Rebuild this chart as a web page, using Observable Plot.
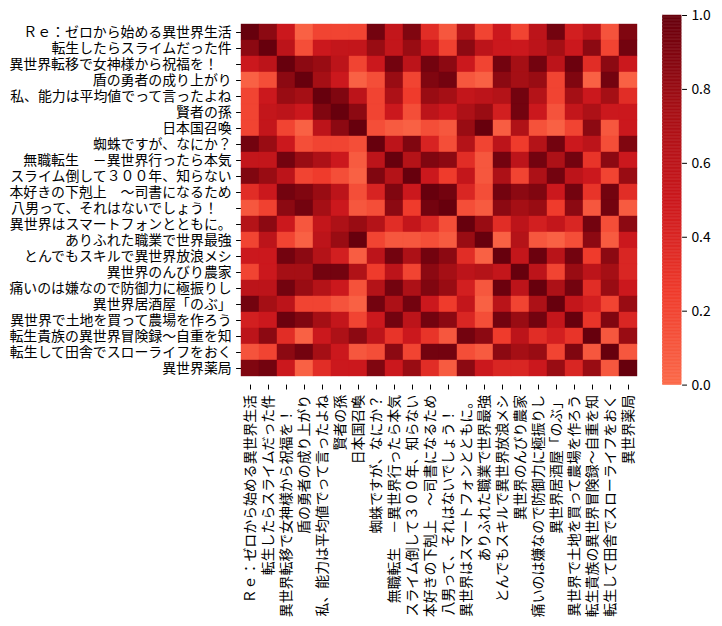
<!DOCTYPE html>
<html>
<head>
<meta charset="utf-8">
<script src="https://cdn.jsdelivr.net/npm/d3@7"></script>
<script src="https://cdn.jsdelivr.net/npm/@observablehq/plot@0.6"></script>
<style>
  html, body { margin: 0; padding: 0; background: white; }
  #wrap { position: relative; width: 722px; height: 626px; }
  #wrap svg { position: absolute; left: 0; top: 0; }
</style>
</head>
<body>
<div id="wrap"></div>
<script>
const titles = [
  "Ｒｅ：ゼロから始める異世界生活",
  "転生したらスライムだった件",
  "異世界転移で女神様から祝福を！　",
  "盾の勇者の成り上がり",
  "私、能力は平均値でって言ったよね",
  "賢者の孫",
  "日本国召喚",
  "蜘蛛ですが、なにか？",
  "無職転生　－異世界行ったら本気",
  "スライム倒して３００年、知らない",
  "本好きの下剋上　～司書になるため",
  "八男って、それはないでしょう！　",
  "異世界はスマートフォンとともに。",
  "ありふれた職業で世界最強",
  "とんでもスキルで異世界放浪メシ",
  "異世界のんびり農家",
  "痛いのは嫌なので防御力に極振りし",
  "異世界居酒屋「のぶ」",
  "異世界で土地を買って農場を作ろう",
  "転生貴族の異世界冒険録～自重を知",
  "転生して田舎でスローライフをおく",
  "異世界薬局"
];

const values = [
  [1.0, 0.85, 0.5, 0.05, 0.2, 0.2, 0.2, 0.95, 0.55, 0.9, 0.35, 0.1, 0.65, 0.2, 0.5, 0.2, 0.6, 0.95, 0.45, 0.6, 0.12, 0.9],
  [0.85, 1.0, 0.6, 0.15, 0.5, 0.55, 0.55, 0.8, 0.55, 0.8, 0.5, 0.22, 0.85, 0.6, 0.5, 0.5, 0.6, 0.75, 0.5, 0.85, 0.2, 0.95],
  [0.5, 0.6, 1.0, 0.85, 0.8, 0.6, 0.2, 0.5, 0.95, 0.6, 0.95, 0.85, 0.5, 0.2, 0.95, 0.75, 0.95, 0.6, 0.98, 0.35, 0.85, 0.5],
  [0.05, 0.15, 0.85, 1.0, 0.75, 0.5, 0.05, 0.15, 0.8, 0.2, 0.9, 0.95, 0.1, 0.05, 0.85, 0.75, 0.8, 0.2, 0.9, 0.05, 0.95, 0.05],
  [0.2, 0.5, 0.8, 0.75, 1.0, 0.9, 0.6, 0.2, 0.7, 0.25, 0.8, 0.75, 0.55, 0.6, 0.65, 0.95, 0.65, 0.2, 0.75, 0.5, 0.75, 0.35],
  [0.2, 0.55, 0.6, 0.5, 0.9, 1.0, 0.85, 0.2, 0.5, 0.15, 0.6, 0.5, 0.7, 0.8, 0.45, 0.95, 0.5, 0.12, 0.55, 0.7, 0.5, 0.5],
  [0.2, 0.55, 0.2, 0.05, 0.6, 0.85, 1.0, 0.15, 0.08, 0.05, 0.15, 0.1, 0.8, 1.0, 0.07, 0.68, 0.13, 0.05, 0.2, 0.85, 0.1, 0.5],
  [0.95, 0.8, 0.5, 0.15, 0.2, 0.2, 0.15, 1.0, 0.6, 0.9, 0.42, 0.15, 0.65, 0.2, 0.6, 0.25, 0.65, 0.95, 0.5, 0.6, 0.15, 0.9],
  [0.55, 0.55, 0.95, 0.8, 0.7, 0.5, 0.08, 0.6, 1.0, 0.65, 0.9, 0.85, 0.35, 0.1, 0.95, 0.6, 0.95, 0.7, 0.95, 0.3, 0.85, 0.5],
  [0.9, 0.8, 0.6, 0.2, 0.25, 0.15, 0.05, 0.9, 0.65, 1.0, 0.5, 0.25, 0.55, 0.1, 0.7, 0.2, 0.7, 0.95, 0.6, 0.5, 0.2, 0.8],
  [0.35, 0.5, 0.95, 0.9, 0.8, 0.6, 0.15, 0.42, 0.9, 0.5, 1.0, 0.95, 0.4, 0.15, 0.95, 0.85, 0.9, 0.5, 0.95, 0.3, 0.95, 0.35],
  [0.1, 0.22, 0.85, 0.95, 0.75, 0.5, 0.1, 0.15, 0.85, 0.25, 0.95, 1.0, 0.15, 0.08, 0.85, 0.75, 0.8, 0.25, 0.85, 0.1, 0.95, 0.08],
  [0.65, 0.85, 0.5, 0.1, 0.55, 0.7, 0.8, 0.65, 0.35, 0.55, 0.4, 0.15, 1.0, 0.8, 0.35, 0.6, 0.45, 0.55, 0.4, 0.95, 0.15, 0.85],
  [0.2, 0.6, 0.2, 0.05, 0.6, 0.8, 1.0, 0.2, 0.1, 0.1, 0.15, 0.08, 0.8, 1.0, 0.05, 0.65, 0.1, 0.05, 0.15, 0.85, 0.08, 0.5],
  [0.5, 0.5, 0.95, 0.85, 0.65, 0.45, 0.07, 0.6, 0.95, 0.7, 0.95, 0.85, 0.35, 0.05, 1.0, 0.55, 0.98, 0.62, 0.95, 0.25, 0.85, 0.4],
  [0.2, 0.5, 0.75, 0.75, 0.95, 0.95, 0.68, 0.25, 0.6, 0.2, 0.85, 0.75, 0.6, 0.65, 0.55, 1.0, 0.6, 0.2, 0.8, 0.6, 0.75, 0.4],
  [0.6, 0.6, 0.95, 0.8, 0.65, 0.5, 0.13, 0.65, 0.95, 0.7, 0.9, 0.8, 0.45, 0.1, 0.98, 0.6, 1.0, 0.7, 0.95, 0.35, 0.8, 0.5],
  [0.95, 0.75, 0.6, 0.2, 0.2, 0.12, 0.05, 0.95, 0.7, 0.95, 0.5, 0.25, 0.55, 0.05, 0.62, 0.2, 0.7, 1.0, 0.55, 0.45, 0.2, 0.8],
  [0.45, 0.5, 0.98, 0.9, 0.75, 0.55, 0.2, 0.5, 0.95, 0.6, 0.95, 0.85, 0.4, 0.15, 0.95, 0.8, 0.95, 0.55, 1.0, 0.3, 0.9, 0.4],
  [0.6, 0.85, 0.35, 0.05, 0.5, 0.7, 0.85, 0.6, 0.3, 0.5, 0.3, 0.1, 0.95, 0.85, 0.25, 0.6, 0.35, 0.45, 0.3, 1.0, 0.1, 0.8],
  [0.12, 0.2, 0.85, 0.95, 0.75, 0.5, 0.1, 0.15, 0.85, 0.2, 0.95, 0.95, 0.15, 0.08, 0.85, 0.75, 0.8, 0.2, 0.9, 0.1, 1.0, 0.1],
  [0.9, 0.95, 0.5, 0.05, 0.35, 0.5, 0.5, 0.9, 0.5, 0.8, 0.35, 0.08, 0.85, 0.5, 0.4, 0.4, 0.5, 0.8, 0.4, 0.8, 0.1, 1.0]
];

const colorbarTicks = [0, 0.2, 0.4, 0.6, 0.8, 1.0];
// upper half of matplotlib "Reds" (seaborn heatmap with center=0)
const redsUpper = ["#fb6a4a", "#ef3b2c", "#cb181d", "#a50f15", "#67000d"];

const cells = [];
values.forEach((row, i) => row.forEach((v, j) => cells.push({row: titles[i], col: titles[j], value: v})));

const colorScale = {type: "linear", domain: [0, 1], range: redsUpper, interpolate: "rgb"};
const font = "'Noto Sans CJK JP', 'Noto Sans', sans-serif";

const main = Plot.plot({
  width: 722, height: 626,
  marginLeft: 241, marginRight: 84.2, marginTop: 15, marginBottom: 241.4,
  style: {fontFamily: font, fontSize: "13.9px", background: "transparent", color: "black"},
  x: {domain: titles, padding: 0, label: null, tickRotate: -90, tickSize: 4.9, tickPadding: 4.9},
  y: {domain: titles, padding: 0, label: null, tickSize: 4.9, tickPadding: 4.9},
  color: colorScale,
  marks: [
    Plot.cell(cells, {x: "col", y: "row", fill: "value", stroke: "value", strokeWidth: 0.4, inset: 0})
  ]
});

const ramp = d3.range(256).map(k => ({lo: k / 256, hi: (k + 1) / 256}));

const bar = Plot.plot({
  width: 722, height: 626,
  marginLeft: 662.6, marginRight: 40.9, marginTop: 15, marginBottom: 241.4,
  style: {fontFamily: font, fontSize: "13.9px", background: "transparent", color: "black"},
  y: {domain: [0, 1], axis: "right", ticks: colorbarTicks, tickFormat: d3.format(".1f"), tickSize: 4.9, tickPadding: 4.9, label: null},
  color: colorScale,
  marks: [
    Plot.rect(ramp, {y1: "lo", y2: "hi", fill: d => (d.lo + d.hi) / 2, stroke: d => (d.lo + d.hi) / 2, strokeWidth: 0.5})
  ]
});

const wrap = document.getElementById("wrap");
wrap.style.background = "white";
wrap.appendChild(main);
wrap.appendChild(bar);
</script>
</body>
</html>
